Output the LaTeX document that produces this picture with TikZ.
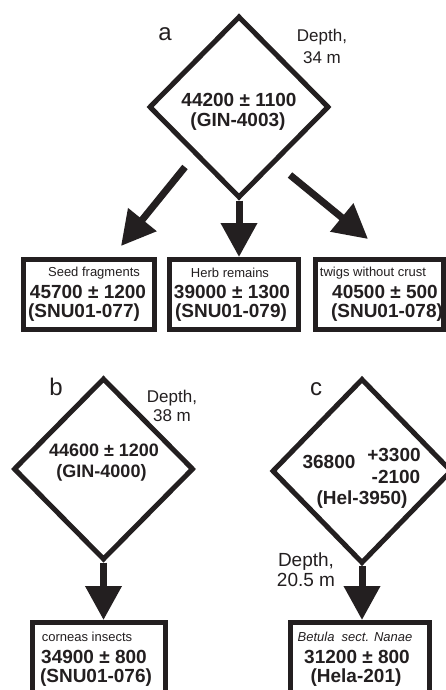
\documentclass[tikz,border=0pt]{standalone}
\usepackage{fontspec}
\setmainfont{Liberation Sans}
\usetikzlibrary{shapes.geometric,arrows.meta}
\definecolor{ink}{HTML}{231F20}
\begin{document}
\begin{tikzpicture}[x=1pt,y=-1pt,
  dia/.style={diamond, draw=ink, line width=5pt, fill=white, minimum width=180pt, minimum height=182pt, inner sep=0pt},
  box/.style={rectangle, draw=ink, line width=5pt, fill=white, inner sep=0pt, minimum height=70pt},
  num/.style={font=\fontsize{19}{22}\selectfont\bfseries, text=ink, inner sep=0pt},
  numsm/.style={font=\fontsize{18}{22}\selectfont\bfseries, text=ink, inner sep=0pt},
  lab/.style={font=\fontsize{13}{15}\selectfont, text=ink, inner sep=0pt},
  depth/.style={text=ink, align=center, inner sep=0pt},
  panel/.style={font=\fontsize{24}{28}\selectfont, text=ink, inner sep=0pt},
  arr/.style={draw=ink, line width=7pt, -{Triangle[length=34pt,width=35pt]}},
]
\useasboundingbox (0,0) rectangle (446,690);
\fill[white] (0,0) rectangle (446,690);

% diamonds
\node[dia] (da) at (239,107) {};
\node[dia] (db) at (103.5,469) {};
\node[dia, minimum height=185pt] (dc) at (362,471) {};

% boxes
\node[box, minimum width=131pt] (b1) at (89,294.5) {};
\node[box, minimum width=129pt] (b2) at (234,294.5) {};
\node[box, minimum width=128pt] (b3) at (379.5,294.5) {};
\node[box, minimum width=133pt] (bb) at (99,657.5) {};
\node[box, minimum width=139pt] (bc) at (360,657.5) {};

% arrows
\coordinate (s1) at (185,167);
\coordinate (t1) at (121,246);
\coordinate (s3) at (290,175);
\coordinate (t3) at (368,239);
\draw[arr] (s1) -- (t1);
\draw[arr] (s3) -- (t3);
\draw[arr] (da.south) -- (da.south |- b2.north);
\draw[arr] (db.south) -- (db.south |- bb.north);
\draw[arr] (dc.south) -- (dc.south |- bc.north);

% panel labels
\node[panel] (pa) at (165,34) {a};
\node[panel] (pb) at (56,387) {b};
\node[panel] (pc) at (316,389) {c};

% depth labels
\node[depth, font=\fontsize{17}{22}\selectfont] (dpa) at (322,46.5) {Depth,\\34 m};
\node[depth, font=\fontsize{17}{19}\selectfont] (dpb) at (172,406) {Depth,\\38 m};
\node[depth, font=\fontsize{19}{20}\selectfont] (dpc) at (306,570) {Depth,\\20.5 m};

% diamond texts
\node[num] (ta1) at (239,100) {44200 ± 1100};
\node[num] (ta2) at (238,122) {(GIN-4003)};
\node[numsm] (tb1) at (104,450) {44600 ± 1200};
\node[numsm] (tb2) at (101.5,473) {(GIN-4000)};
\node[num] (tc1) at (329,462) {36800};
\node[num] (tc2) at (394,455) {+3300};
\node[num] (tc3) at (396,477) {-2100};
\node[num] (tc4) at (362,500) {(Hel-3950)};

% box texts
\node[lab] (l1) at (94,273) {Seed fragments};
\node[num] (n1) at (88,292) {45700 ± 1200};
\node[num] (c1) at (84,313) {(SNU01-077)};
\node[lab] (l2) at (230,273) {Herb remains};
\node[num] (n2) at (232,292) {39000 ± 1300};
\node[num] (c2) at (231,313) {(SNU01-079)};
\node[lab] (l3) at (373,273) {twigs without crust};
\node[num] (n3) at (385,292) {40500 ± 500};
\node[num] (c3) at (387,313) {(SNU01-078)};
\node[lab] (lb) at (87,637) {corneas insects};
\node[num] (nb) at (94,657) {34900 ± 800};
\node[num] (cb) at (96,678) {(SNU01-076)};
\node[lab] (lc) at (355,637) {\itshape Betula\ \ sect. Nanae};
\node[num] (nc) at (357,657) {31200 ± 800};
\node[num] (cc) at (356,678) {(Hela-201)};
\end{tikzpicture}
\end{document}
